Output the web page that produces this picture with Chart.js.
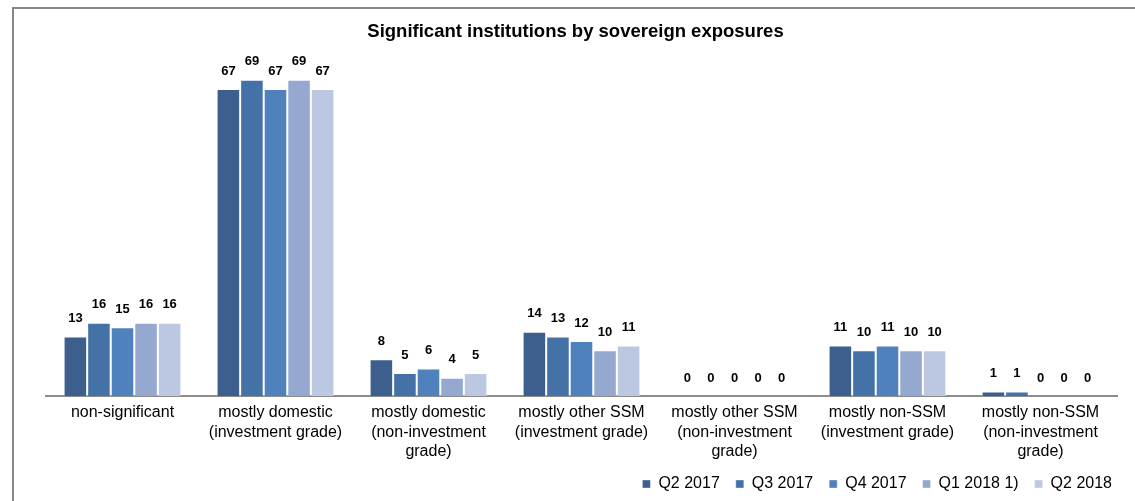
<!DOCTYPE html>
<html>
<head>
<meta charset="utf-8">
<script src="https://cdn.jsdelivr.net/npm/chart.js@4.4.0/dist/chart.umd.min.js"></script>
<style>
  html, body { margin: 0; padding: 0; width: 1135px; height: 501px; overflow: hidden; background: #fff; }
  #wrap { position: absolute; left: 0; top: 0; width: 1135px; height: 501px; }
  #frame { position: absolute; left: 12px; top: 7px; width: 1200px; height: 600px; border: 2px solid #878787; pointer-events: none; }
</style>
</head>
<body>
<div id="wrap"><canvas id="c" width="1135" height="501"></canvas></div>
<div id="frame"></div>
<script>
const categories = [
  ['non-significant'],
  ['mostly domestic', '(investment grade)'],
  ['mostly domestic', '(non-investment', 'grade)'],
  ['mostly other SSM', '(investment grade)'],
  ['mostly other SSM', '(non-investment', 'grade)'],
  ['mostly non-SSM', '(investment grade)'],
  ['mostly non-SSM', '(non-investment', 'grade)']
];
const seriesNames = ['Q2 2017', 'Q3 2017', 'Q4 2017', 'Q1 2018 1)', 'Q2 2018'];
const q2_2017 = [13, 67, 8, 14, 0, 11, 1];
const q3_2017 = [16, 69, 5, 13, 0, 10, 1];
const q4_2017 = [15, 67, 6, 12, 0, 11, 0];
const q1_2018 = [16, 69, 4, 10, 0, 10, 0];
const q2_2018 = [16, 67, 5, 11, 0, 10, 0];
const seriesColors = ['#3C5F8D', '#4472A7', '#4F81BD', '#95A9D0', '#BCC8E1'];

const FONT = '"Liberation Sans", Arial, sans-serif';

const valueLabels = {
  id: 'valueLabels',
  afterDatasetsDraw(chart) {
    const ctx = chart.ctx;
    ctx.save();
    ctx.font = 'bold 13px ' + FONT;
    ctx.fillStyle = '#000';
    ctx.textAlign = 'center';
    ctx.textBaseline = 'middle';
    chart.data.datasets.forEach((ds, i) => {
      const meta = chart.getDatasetMeta(i);
      meta.data.forEach((el, j) => {
        ctx.fillText(String(ds.data[j]), el.x, el.y - 18);
      });
    });
    ctx.restore();
  }
};

const boxShift = {
  id: 'boxShift',
  afterLayout(chart) {
    const lg = chart.legend;
    if (lg) {
      lg.left += 11; lg.right += 11;
      lg.top += 1; lg.bottom += 1;
    }
    const tb = chart.titleBlock;
    if (tb) {
      tb.left -= 6; tb.right -= 6;
    }
  }
};

const allSeries = [q2_2017, q3_2017, q4_2017, q1_2018, q2_2018];

new Chart(document.getElementById('c'), {
  type: 'bar',
  data: {
    labels: categories,
    datasets: allSeries.map((d, i) => ({
      label: seriesNames[i],
      data: d,
      backgroundColor: seriesColors[i],
      borderColor: 'rgba(255,255,255,0.45)',
      borderWidth: {top: 1, left: 1, right: 1, bottom: 0},
      borderSkipped: 'bottom',
      categoryPercentage: 0.77,
      barPercentage: 1.0
    }))
  },
  options: {
    responsive: false,
    animation: false,
    devicePixelRatio: 1,
    layout: { padding: { left: 46, right: 18, top: 0, bottom: 0 } },
    plugins: {
      title: {
        display: true,
        text: 'Significant institutions by sovereign exposures',
        color: '#000',
        font: { family: FONT, size: 18.5, weight: 'bold' },
        padding: { top: 21, bottom: 32 }
      },
      legend: {
        display: true,
        position: 'bottom',
        align: 'end',
        labels: {
          color: '#000',
          font: { family: FONT, size: 16 },
          boxWidth: 8,
          boxHeight: 8,
          padding: 16
        }
      },
      tooltip: { enabled: false }
    },
    scales: {
      x: {
        offset: true,
        grid: { display: false, drawTicks: false, drawOnChartArea: false },
        border: { display: true, color: '#8C8C8C', width: 2 },
        ticks: {
          color: '#000',
          font: { family: FONT, size: 16, lineHeight: 1.22 },
          padding: 7,
          maxRotation: 0,
          autoSkip: false
        },
        afterFit(s) { s.height = 63; }
      },
      y: {
        display: false,
        min: 0,
        max: 70
      }
    }
  },
  plugins: [valueLabels, boxShift]
});
</script>
</body>
</html>
